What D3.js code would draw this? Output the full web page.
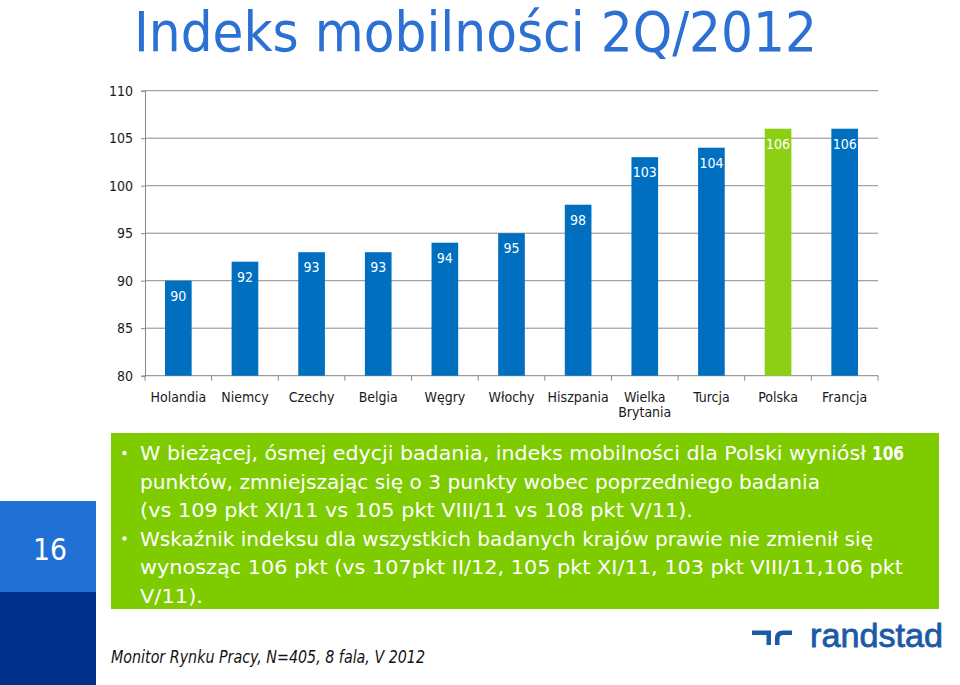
<!DOCTYPE html>
<html>
<head>
<meta charset="utf-8">
<script src="https://cdn.jsdelivr.net/npm/d3@7"></script>
<style>
  html, body { margin: 0; padding: 0; background: #ffffff; }
  svg { display: block; }
</style>
</head>
<body>
<svg id="chart" width="960" height="685"></svg>
<script>
// ---- data ----
const categories = ["Holandia", "Niemcy", "Czechy", "Belgia", "Węgry", "Włochy", "Hiszpania", "Wielka Brytania", "Turcja", "Polska", "Francja"];
const values = [90, 92, 93, 93, 94, 95, 98, 103, 104, 106, 106];
const highlight = "Polska";
const yTicks = [80, 85, 90, 95, 100, 105, 110];
const title = "Indeks mobilności 2Q/2012";
const pageNumber = "16";
const footer = "Monitor Rynku Pracy, N=405, 8 fala, V 2012";
const bulletLines = [
  { bullet: true,  text: "W bieżącej, ósmej edycji badania, indeks mobilności dla Polski wyniósł", bold: "106", len: 726 },
  { bullet: false, text: "punktów, zmniejszając się o 3 punkty wobec poprzedniego badania", len: 680 },
  { bullet: false, text: "(vs 109 pkt XI/11 vs 105 pkt VIII/11 vs 108 pkt V/11).", len: 553 },
  { bullet: true,  text: "Wskaźnik indeksu dla wszystkich badanych krajów prawie nie zmienił się", len: 733 },
  { bullet: false, text: "wynosząc 106 pkt (vs 107pkt II/12, 105 pkt XI/11, 103 pkt VIII/11,106 pkt", len: 763 },
  { bullet: false, text: "V/11).", len: 63 }
];

const FONT = "Tahoma, 'DejaVu Sans Condensed', 'DejaVu Sans', sans-serif";
const svg = d3.select("#chart");

// ---- title ----
svg.append("text")
  .attr("x", 134).attr("y", 51)
  .attr("font-family", FONT).attr("font-size", 55)
  .attr("fill", "#2c70d3")
  .attr("textLength", 683).attr("lengthAdjust", "spacingAndGlyphs")
  .text(title);

// ---- chart ----
const pLeft = 145, pRight = 878, pTop = 90.7, pBottom = 375.7;
const x = d3.scaleBand().domain(categories).range([pLeft, pRight]).paddingInner(0.6).paddingOuter(0.3);
const y = d3.scaleLinear().domain([80, 110]).range([pBottom, pTop]);

// gridlines
svg.append("g").selectAll("line").data(yTicks.filter(t => t !== 80)).join("line")
  .attr("x1", pLeft).attr("x2", pRight)
  .attr("y1", d => y(d)).attr("y2", d => y(d))
  .attr("stroke", "#8c8c8c").attr("stroke-width", 1);

// y axis
const yAxis = svg.append("g")
  .attr("transform", `translate(${pLeft},0)`)
  .call(d3.axisLeft(y).tickValues(yTicks).tickSize(4).tickPadding(8).tickFormat(d3.format("d")));
yAxis.select(".domain").attr("stroke", "#868686");
yAxis.selectAll(".tick line").attr("stroke", "#868686");
yAxis.selectAll(".tick text").attr("font-family", FONT).attr("font-size", 14).attr("fill", "#1a1a1a");

// x axis line + boundary ticks
svg.append("line").attr("x1", pLeft).attr("x2", pRight).attr("y1", pBottom).attr("y2", pBottom)
  .attr("stroke", "#868686");
const step = x.step();
const boundaries = d3.range(categories.length + 1).map(i => pLeft + i * step);
svg.append("g").selectAll("line").data(boundaries).join("line")
  .attr("x1", d => d).attr("x2", d => d)
  .attr("y1", pBottom).attr("y2", pBottom + 5)
  .attr("stroke", "#868686");

// bars
const data = categories.map((c, i) => ({ c, v: values[i] }));
svg.append("g").selectAll("rect").data(data).join("rect")
  .attr("x", d => x(d.c)).attr("width", x.bandwidth())
  .attr("y", d => y(d.v)).attr("height", d => y(80) - y(d.v))
  .attr("fill", d => d.c === highlight ? "#8ccf14" : "#006fc0");

// value labels
svg.append("g").selectAll("text").data(data).join("text")
  .attr("x", d => x(d.c) + x.bandwidth() / 2)
  .attr("y", d => y(d.v) + 20)
  .attr("text-anchor", "middle")
  .attr("font-family", FONT).attr("font-size", 14)
  .attr("fill", "#ffffff")
  .text(d => d.v);

// category labels
const catG = svg.append("g");
data.forEach(d => {
  const words = d.c.length > 10 ? d.c.split(" ") : [d.c];
  const t = catG.append("text")
    .attr("x", x(d.c) + x.bandwidth() / 2)
    .attr("y", 401.5)
    .attr("text-anchor", "middle")
    .attr("font-family", FONT).attr("font-size", 14)
    .attr("fill", "#1a1a1a");
  words.forEach((w, i) => {
    t.append("tspan").attr("x", x(d.c) + x.bandwidth() / 2).attr("dy", i === 0 ? 0 : 15).text(w);
  });
});

// ---- page number boxes ----
svg.append("rect").attr("x", 0).attr("y", 501).attr("width", 96).attr("height", 91).attr("fill", "#2170d6");
svg.append("rect").attr("x", 0).attr("y", 592).attr("width", 96).attr("height", 93).attr("fill", "#00308a");
svg.append("text").attr("x", 50).attr("y", 560).attr("text-anchor", "middle")
  .attr("font-family", FONT).attr("font-size", 31).attr("fill", "#ffffff")
  .attr("textLength", 34).attr("lengthAdjust", "spacingAndGlyphs")
  .text(pageNumber);

// ---- green text box ----
svg.append("rect").attr("x", 111).attr("y", 433).attr("width", 828).attr("height", 176).attr("fill", "#7ecb00");
const lineG = svg.append("g");
bulletLines.forEach((l, i) => {
  const by = 460 + i * 28.5;
  if (l.bullet) {
    lineG.append("circle").attr("cx", 124.5).attr("cy", by - 7).attr("r", 2.2).attr("fill", "#ffffff");
  }
  lineG.append("text").attr("x", 140).attr("y", by)
    .attr("font-family", FONT).attr("font-size", 20).attr("fill", "#ffffff")
    .attr("textLength", l.len).attr("lengthAdjust", "spacingAndGlyphs")
    .text(l.text);
  if (l.bold) {
    lineG.append("text").attr("x", 872).attr("y", by)
      .attr("font-family", FONT).attr("font-size", 20).attr("font-weight", "bold").attr("fill", "#ffffff")
      .attr("textLength", 32).attr("lengthAdjust", "spacingAndGlyphs")
      .text(l.bold);
  }
});

// ---- footer ----
svg.append("text").attr("x", 111).attr("y", 663)
  .attr("font-family", FONT).attr("font-size", 17).attr("font-style", "italic").attr("fill", "#111111")
  .attr("textLength", 314).attr("lengthAdjust", "spacingAndGlyphs")
  .text(footer);

// ---- randstad logo ----
const logo = svg.append("g").attr("fill", "#1d5aa6");
logo.append("path").attr("d", "M752,630.5 H771 V645 H766.5 V635 H752 Z");
logo.append("path").attr("d", "M775,645 V638 Q775,630.5 783,630.5 H792 V635 H783.5 Q779.5,635 779.5,639 V645 Z");
svg.append("text").attr("x", 810).attr("y", 647)
  .attr("font-family", "'Liberation Sans', Arial, sans-serif").attr("font-size", 33)
  .attr("fill", "#1d5aa6").attr("stroke", "#1d5aa6").attr("stroke-width", 0.8)
  .attr("textLength", 133).attr("lengthAdjust", "spacingAndGlyphs")
  .text("randstad");
</script>
</body>
</html>
